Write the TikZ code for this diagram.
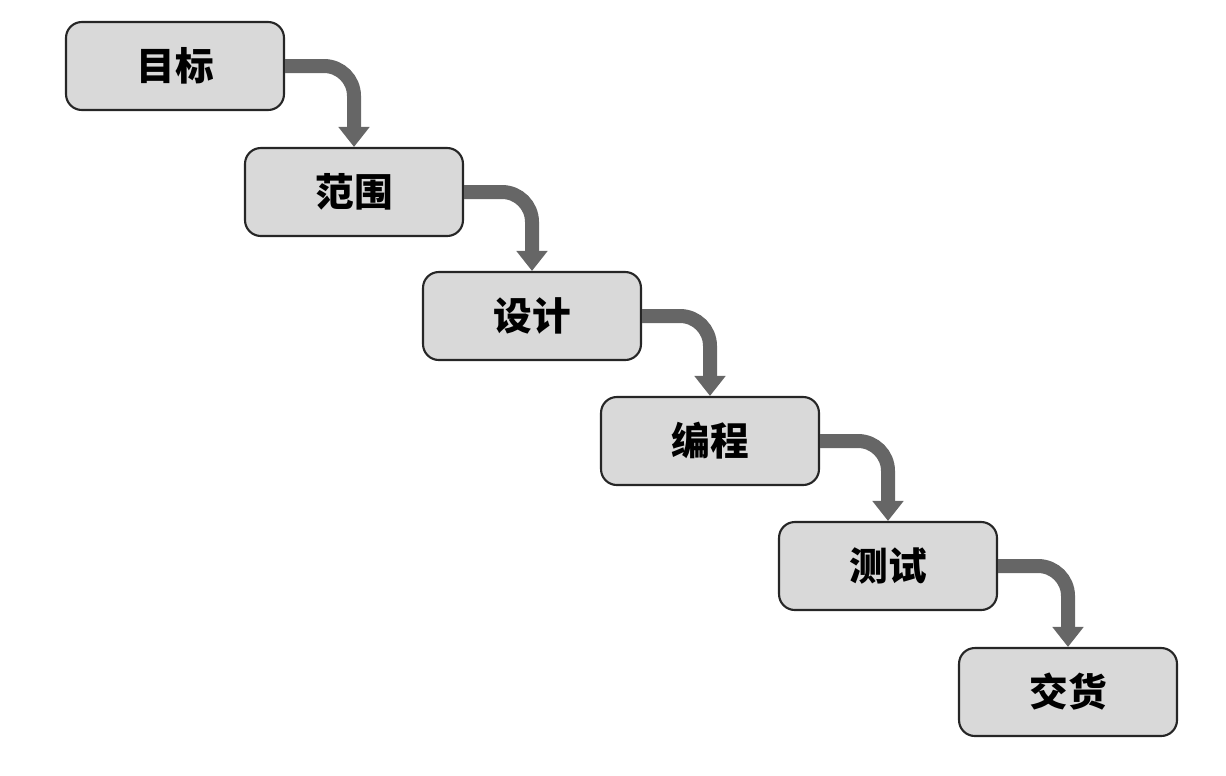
\documentclass[tikz,border=0pt]{standalone}
\usepackage{fontspec}
\newfontfamily\cjk{Noto Sans CJK SC}
\usetikzlibrary{arrows.meta}
\begin{document}
\begin{tikzpicture}[x=0.02cm, y=-0.02cm,
    stepbox/.style={draw=black!85, line width=1.2pt, fill=black!15, rounded corners=9pt,
      minimum width=4.36cm, minimum height=1.76cm, font=\cjk\fontsize{22}{26}\selectfont\bfseries},
    flow/.style={draw=black!60, line width=0.28cm, rounded corners=0.6cm,
      -{Triangle[length=0.4cm, width=0.6cm]}}]
  \useasboundingbox (0,0) rectangle (1226,775);
  \node[stepbox] (goal) at (175,66) {目标};
  \node[stepbox] (scope) at (354,192) {范围};
  \node[stepbox] (design) at (532,316) {设计};
  \node[stepbox] (code) at (710,441) {编程};
  \node[stepbox] (test) at (888,566) {测试};
  \node[stepbox] (deliver) at (1068,692) {交货};

  \draw[flow] (goal.east) -| (scope.north);
  \draw[flow] (scope.east) -| (design.north);
  \draw[flow] (design.east) -| (code.north);
  \draw[flow] (code.east) -| (test.north);
  \draw[flow] (test.east) -| (deliver.north);
\end{tikzpicture}
\end{document}
